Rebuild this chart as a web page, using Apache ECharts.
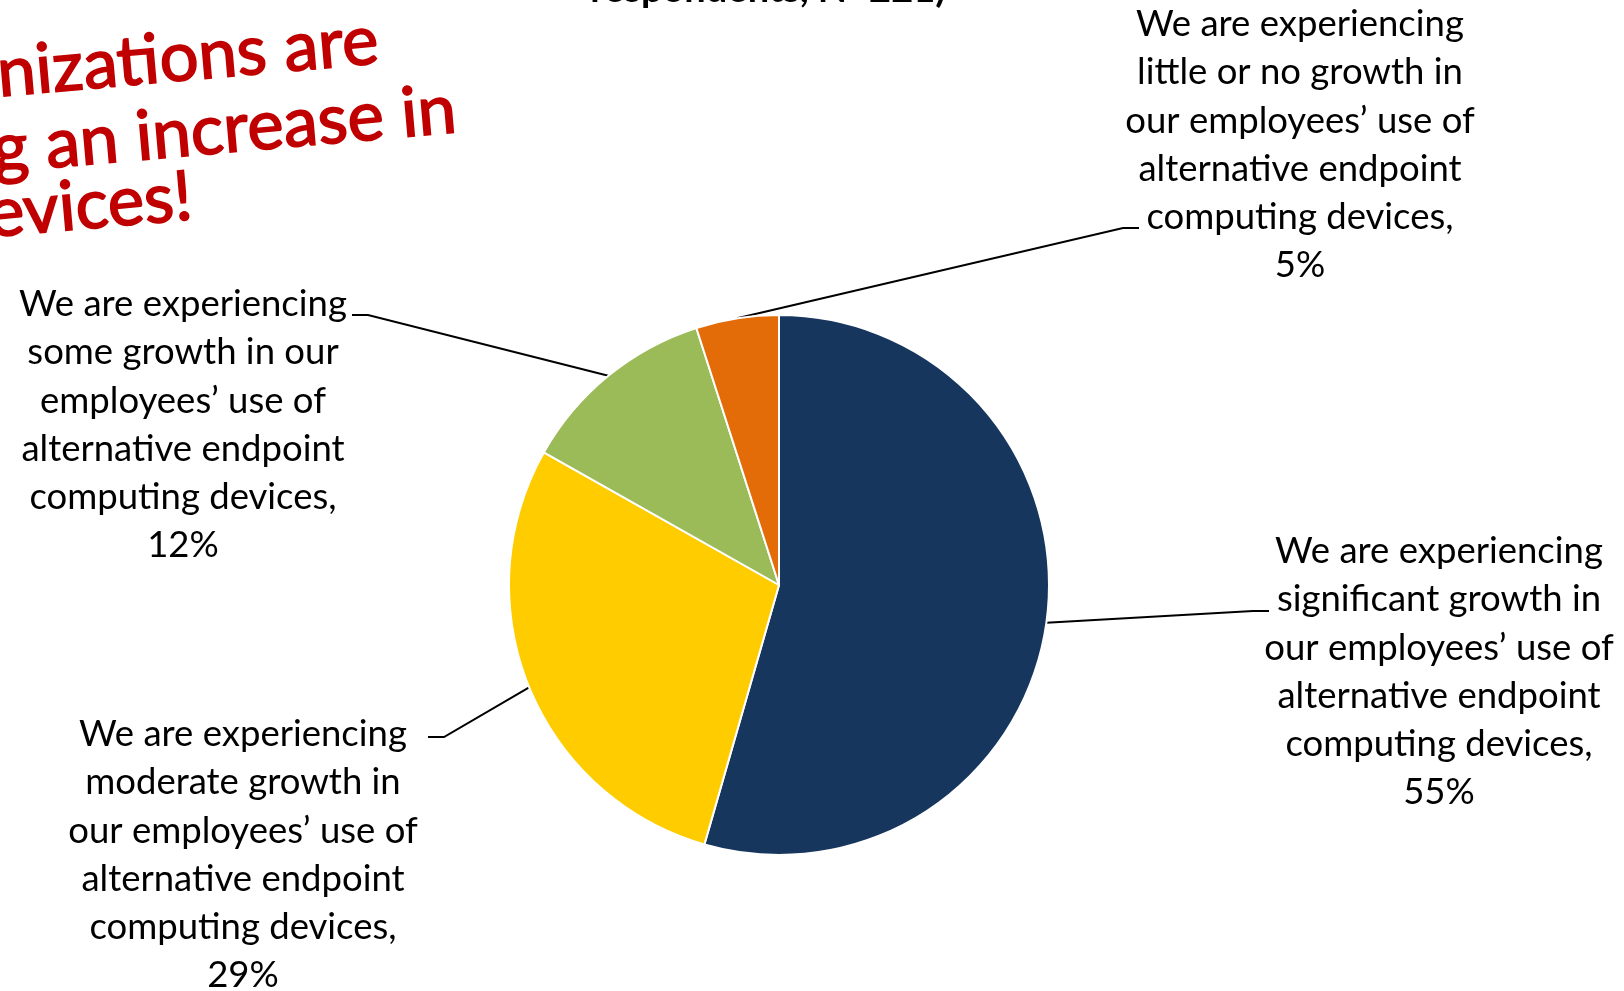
<!DOCTYPE html>
<html>
<head>
<meta charset="utf-8">
<script src="https://cdn.jsdelivr.net/npm/echarts@6/dist/echarts.min.js"></script>
<style>
  html, body { margin: 0; padding: 0; background: #ffffff; }
  #chart { width: 1624px; height: 991px; }
</style>
</head>
<body>
<div id="chart"></div>
<script>
// ---- data ----
const categories = [
  'We are experiencing\nsignificant growth in\nour employees’ use of\nalternative endpoint\ncomputing devices,',
  'We are experiencing\nmoderate growth in\nour employees’ use of\nalternative endpoint\ncomputing devices,',
  'We are experiencing\nsome growth in our\nemployees’ use of\nalternative endpoint\ncomputing devices,',
  'We are experiencing\nlittle or no growth in\nour employees’ use of\nalternative endpoint\ncomputing devices,'
];
const values = [55, 29, 12, 5];
const colors = ['#17365D', '#FFCC00', '#9BBB59', '#E36C09'];
const titleTail = 'respondents, N=221)';
const calloutLines = ['Organizations are', 'experiencing an increase in', 'devices!'];

// ---- layout (label placement, leader-line attach points) ----
const labelPlace = [
  { cx: 1439, top: 527, ax: 1269, ay: 611, dir: -1 },
  { cx: 243,  top: 710, ax: 428,  ay: 737, dir: 1 },
  { cx: 183,  top: 280, ax: 352,  ay: 315, dir: 1 },
  { cx: 1300, top: 0,   ax: 1139, ay: 228, dir: -1 }
];
const calloutPos = [
  { x: 378, y: 41 },
  { x: 456, y: 110 },
  { x: 192, y: 197 }
];

const FONT = 'Lato, "Open Sans", sans-serif';
const chart = echarts.init(document.getElementById('chart'), null, { renderer: 'canvas' });

const option = {
  backgroundColor: '#ffffff',
  animation: false,
  graphic: [
    {
      type: 'text', x: 768, y: -10,
      style: { text: titleTail, fontFamily: FONT, fontSize: 38, fontWeight: 'bold',
               fill: '#000', align: 'center', verticalAlign: 'middle' }
    }
  ].concat(calloutLines.map((t, i) => ({
    type: 'text', x: calloutPos[i].x, y: calloutPos[i].y, rotation: 5 * Math.PI / 180,
    style: { text: t, fontFamily: FONT, fontSize: 69, fontWeight: 'normal', fill: '#C00000',
             stroke: '#C00000', lineWidth: 1.6,
             align: 'right', verticalAlign: 'middle' }
  }))),
  series: [{
    type: 'pie',
    center: [779, 585],
    radius: 270,
    startAngle: 90,
    clockwise: true,
    avoidLabelOverlap: false,
    itemStyle: { borderColor: '#ffffff', borderWidth: 2 },
    label: {
      show: true,
      position: 'outer',
      width: 440,
      overflow: 'none',
      fontFamily: FONT,
      fontSize: 36.5,
      lineHeight: 48.3,
      color: '#000',
      formatter: p => p.name + '\n' + p.value + '%'
    },
    labelLine: { show: true, length: 20, length2: 16, lineStyle: { color: '#000', width: 2 } },
    labelLayout: function (p) {
      const L = labelPlace[p.dataIndex];
      const start = (p.labelLinePoints && p.labelLinePoints[0]) || [L.ax, L.ay];
      return {
        x: L.cx, y: L.top, align: 'center', verticalAlign: 'top',
        labelLinePoints: [start, [L.ax + L.dir * 16, L.ay], [L.ax, L.ay]]
      };
    },
    data: categories.map((c, i) => ({ name: c, value: values[i], itemStyle: { color: colors[i] } }))
  }]
};
chart.setOption(option);
</script>
</body>
</html>
